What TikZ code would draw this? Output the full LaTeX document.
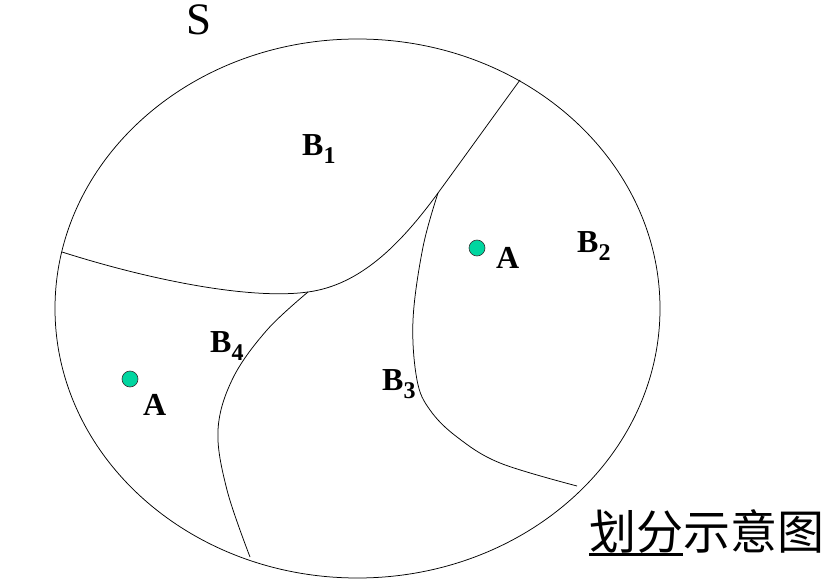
\documentclass[tikz,border=0pt]{standalone}
\usepackage{fontspec}
\setmainfont{Liberation Serif}
\newfontfamily\cjk{Noto Sans CJK SC}

\begin{document}
\begin{tikzpicture}[x=1pt, y=-1pt]

\def\labelsize{\fontsize{32}{32}\selectfont\bfseries}
\def\subsize{\fontsize{24}{24}\selectfont\bfseries}
\newcommand{\blabel}[1]{B\raisebox{-8pt}{\subsize #1}}
\newcommand{\thickunder}[1]{{\setbox0\hbox{#1}\rlap{\rule[-6.5pt]{\wd0}{2.6pt}}\box0}}
\definecolor{dotgreen}{RGB}{0,214,160}
\tikzset{
  region/.style={line width=0.75pt},
  dot/.style={circle, draw=black!80, line width=0.6pt, fill=dotgreen, minimum size=16pt, inner sep=0pt},
  lbl/.style={anchor=base west, inner sep=0pt, font=\labelsize}
}
\useasboundingbox (0,0) rectangle (839,586);
\coordinate (center) at (357.5,308.5);
\coordinate (j1) at (308,292);
\coordinate (j2) at (438,193);

% sample space
\draw[region] (center) ellipse [x radius=302.5, y radius=269.5];

% partition lines
\draw[region] (62,252) .. controls (150,280) and (250,300) .. (j1)
  .. controls (360,285) and (400,245) .. (j2)
  .. controls (465,156) and (493,117) .. (520,80);
\draw[region] plot[smooth, tension=0.6] coordinates {(j2) (423,247) (413,320) (417,380) (430,410) (457,437) (500,463) (577,486)};
\draw[region] plot[smooth, tension=0.6] coordinates {(j1) (267,330) (233,378) (218,430) (227,490) (250,557)};

% event A
\node[dot] (dot1) at (477,248) {};
\node[dot] (dot2) at (130,379) {};
\node[lbl] (A1) at (496,268) {A};
\node[lbl] (A2) at (143,415) {A};

% labels
\node[lbl, font=\fontsize{45}{45}\selectfont] (S) at (186,35) {S};
\node[lbl] (B1) at (302,156) {\blabel{1}};
\node[lbl] (B2) at (577,252) {\blabel{2}};
\node[lbl] (B3) at (382,390) {\blabel{3}};
\node[lbl] (B4) at (210,352) {\blabel{4}};
\node[lbl, font=\cjk\fontsize{47}{47}\selectfont] (title) at (589,549) {\thickunder{划分}示意图};

\end{tikzpicture}
\end{document}
